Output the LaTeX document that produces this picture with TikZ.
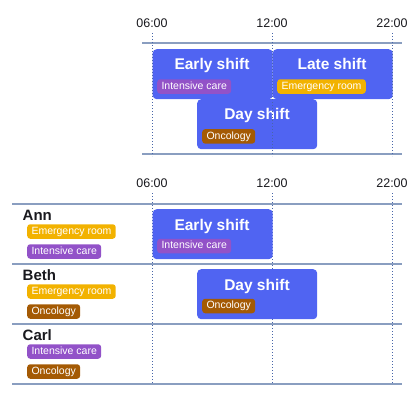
\documentclass[tikz,border=0pt]{standalone}
\usepackage{fontspec}
\setmainfont{Liberation Sans}
\definecolor{shiftblue}{RGB}{80,100,242}
\definecolor{ergold}{RGB}{242,178,0}
\definecolor{icpurple}{RGB}{146,82,200}
\definecolor{oncbrown}{RGB}{164,90,4}
\definecolor{gridblue}{RGB}{138,158,192}
\definecolor{hourblue}{RGB}{72,102,170}
\definecolor{ink}{RGB}{25,25,30}
\begin{document}
\begin{tikzpicture}[x=1pt,y=-1pt,
  shiftbox/.style={fill=shiftblue, rounded corners=4pt, inner sep=0pt,
    minimum width=120pt, minimum height=50pt, anchor=north west},
  shifttitle/.style={text=white, font=\fontsize{15.5}{18}\selectfont\bfseries,
    anchor=base, inner sep=0pt},
  tag/.style={rounded corners=3pt, text=white, font=\fontsize{10.5}{12}\selectfont,
    inner xsep=4.3pt, inner ysep=0pt, minimum height=14.5pt,
    text height=7.6pt, text depth=2pt, anchor=west},
  er/.style={tag, fill=ergold},
  ic/.style={tag, fill=icpurple},
  onc/.style={tag, fill=oncbrown},
  timelabel/.style={text=ink, font=\fontsize{12.5}{15}\selectfont, anchor=base, inner sep=0pt},
  person/.style={text=ink, font=\fontsize{15}{18}\selectfont\bfseries, anchor=base west, inner sep=0pt},
  rowline/.style={draw=gridblue, line width=2pt},
  hourline/.style={draw=hourblue, line width=1pt, dash pattern=on 1pt off 2pt}]
\useasboundingbox (0,0) rectangle (420,420);

% ---------- overview of all shifts ----------
\node[timelabel] (ta06) at (152,27.3) {06:00};
\node[timelabel] (ta12) at (272,27.3) {12:00};
\node[timelabel] (ta22) at (392,27.3) {22:00};
\draw[rowline] (142,43.5) -- (402,43.5);
\draw[rowline] (142,153.5) -- (402,153.5);

\node[shiftbox] (earlyA) at (152.5,49) {};
\node[shiftbox] (lateA) at (272.5,49) {};
\node[shiftbox] (dayA) at (197,99) {};
\node[shifttitle] (earlyAt) at (212,69.5) {Early shift};
\node[shifttitle] (lateAt) at (332,69.5) {Late shift};
\node[shifttitle] (dayAt) at (257,119.5) {Day shift};
\node[ic] (earlyAic) at (157,86.5) {Intensive care};
\node[er] (lateAer) at (277,86.5) {Emergency room};
\node[onc] (dayAonc) at (202,136.4) {Oncology};

\foreach \x in {152,272,392}
  \draw[hourline] (\x,33) -- (\x,156);

% ---------- shifts per person ----------
\node[timelabel] (tb06) at (152,187.7) {06:00};
\node[timelabel] (tb12) at (272,187.7) {12:00};
\node[timelabel] (tb22) at (392,187.7) {22:00};

\foreach \x in {152,272,392}
  \draw[hourline] (\x,193) -- (\x,384);
\foreach \y in {203.5,264.3,323.5,384}
  \draw[rowline] (12,\y) -- (402,\y);

% Ann
\node[person] (ann) at (22.5,220) {Ann};
\node[er] (annEr) at (27,231.5) {Emergency room};
\node[ic] (annIc) at (27,251.5) {Intensive care};
\node[shiftbox] (earlyB) at (152.5,209) {};
\node[shifttitle] (earlyBt) at (212,230) {Early shift};
\node[ic] (earlyBic) at (157,246) {Intensive care};

% Beth
\node[person] (beth) at (22.5,280) {Beth};
\node[er] (bethEr) at (27,291.5) {Emergency room};
\node[onc] (bethOnc) at (27,311.5) {Oncology};
\node[shiftbox] (dayB) at (197,269) {};
\node[shifttitle] (dayBt) at (257,290) {Day shift};
\node[onc] (dayBonc) at (202,306) {Oncology};

% Carl
\node[person] (carl) at (22.5,340) {Carl};
\node[ic] (carlIc) at (27,351.5) {Intensive care};
\node[onc] (carlOnc) at (27,371.5) {Oncology};
\end{tikzpicture}
\end{document}
